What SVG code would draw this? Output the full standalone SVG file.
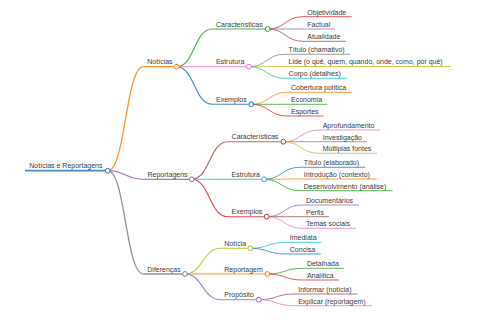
<svg xmlns="http://www.w3.org/2000/svg" width="480" height="320" viewBox="0 0 480 320">
<style>
text{font-family:"Liberation Sans",Arial,sans-serif;font-size:7px;fill:#3a3a3a}
path,line{fill:none;stroke-opacity:0.85}
circle{fill:#fff;stroke-width:1}
.c0{stroke:#1f77b4}.c1{stroke:#ff7f0e}.c2{stroke:#2ca02c}.c3{stroke:#d62728}.c4{stroke:#9467bd}
.c5{stroke:#8c564b}.c6{stroke:#e377c2}.c7{stroke:#7f7f7f}.c8{stroke:#bcbd22}.c9{stroke:#17becf}
.w0{stroke-width:1.8}.w1{stroke-width:1.3}.w2{stroke-width:1.1}.w3{stroke-width:0.9}
</style>
<rect width="480" height="320" fill="#fff"/>
<g id="connectors">
<path class="c1 w1" d="M107.7,170.7 C125.6,170.7 125.6,66.7 143.5,66.7"/>
<path class="c4 w1" d="M107.7,170.7 C125.6,170.7 125.6,179.3 143.5,179.3"/>
<path class="c7 w1" d="M107.7,170.7 C125.6,170.7 125.6,274 143.5,274"/>
<path class="c2 w2" d="M176.7,66.7 C194.4,66.7 194.4,29 212,29"/>
<path class="c6 w2" d="M176.7,66.7 C194.4,66.7 194.4,66.7 212,66.7"/>
<path class="c0 w2" d="M176.7,66.7 C194.4,66.7 194.4,104.3 212,104.3"/>
<path class="c5 w2" d="M191.7,179.3 C209.6,179.3 209.6,141.7 227.5,141.7"/>
<path class="c9 w2" d="M191.7,179.3 C209.6,179.3 209.6,179.3 227.5,179.3"/>
<path class="c3 w2" d="M191.7,179.3 C209.6,179.3 209.6,216.7 227.5,216.7"/>
<path class="c8 w2" d="M185,274 C202.7,274 202.7,248.3 220.5,248.3"/>
<path class="c1 w2" d="M185,274 C202.7,274 202.7,274 220.5,274"/>
<path class="c4 w2" d="M185,274 C202.7,274 202.7,299.7 220.5,299.7"/>
<path class="c3 w3" d="M267.7,29 C285.3,29 285.3,16.7 303,16.7"/>
<path class="c4 w3" d="M267.7,29 C285.3,29 285.3,29 303,29"/>
<path class="c5 w3" d="M267.7,29 C285.3,29 285.3,41.3 303,41.3"/>
<path class="c7 w3" d="M249,66.7 C266.7,66.7 266.7,54.3 284.5,54.3"/>
<path class="c8 w3" d="M249,66.7 C266.7,66.7 266.7,66.5 284.5,66.5"/>
<path class="c9 w3" d="M249,66.7 C266.7,66.7 266.7,78.3 284.5,78.3"/>
<path class="c1 w3" d="M251.3,104.3 C269.2,104.3 269.2,92.3 287,92.3"/>
<path class="c2 w3" d="M251.3,104.3 C269.2,104.3 269.2,104.3 287,104.3"/>
<path class="c3 w3" d="M251.3,104.3 C269.2,104.3 269.2,116 287,116"/>
<path class="c6 w3" d="M283.3,141.7 C301,141.7 301,130 318.7,130"/>
<path class="c7 w3" d="M283.3,141.7 C301,141.7 301,141.7 318.7,141.7"/>
<path class="c8 w3" d="M283.3,141.7 C301,141.7 301,153.3 318.7,153.3"/>
<path class="c0 w3" d="M264,179.3 C281.8,179.3 281.8,167.3 299.7,167.3"/>
<path class="c1 w3" d="M264,179.3 C281.8,179.3 281.8,179 299.7,179"/>
<path class="c2 w3" d="M264,179.3 C281.8,179.3 281.8,190.7 299.7,190.7"/>
<path class="c4 w3" d="M266.7,216.7 C284.3,216.7 284.3,205 302,205"/>
<path class="c5 w3" d="M266.7,216.7 C284.3,216.7 284.3,216.7 302,216.7"/>
<path class="c6 w3" d="M266.7,216.7 C284.3,216.7 284.3,228.3 302,228.3"/>
<path class="c9 w3" d="M250.3,248.3 C268,248.3 268,242.3 285.7,242.3"/>
<path class="c0 w3" d="M250.3,248.3 C268,248.3 268,254 285.7,254"/>
<path class="c2 w3" d="M267.3,274 C285,274 285,268.3 302.7,268.3"/>
<path class="c3 w3" d="M267.3,274 C285,274 285,280 302.7,280"/>
<path class="c5 w3" d="M258.7,299.7 C276.3,299.7 276.3,294 294,294"/>
<path class="c6 w3" d="M258.7,299.7 C276.3,299.7 276.3,305.7 294,305.7"/>
</g>
<g id="n-root"><line class="c0 w0" x1="25" y1="170.7" x2="107.7" y2="170.7"/><text x="29.3" y="168.3">Notícias e Reportagens</text><circle class="c0" cx="107.7" cy="170.7" r="2.4"/></g>
<g id="n-noticias"><line class="c1 w1" x1="143.5" y1="66.7" x2="176.7" y2="66.7"/><text x="147.3" y="64.3">Notícias</text><circle class="c1" cx="176.7" cy="66.7" r="2.4"/></g>
<g id="n-reportagens"><line class="c4 w1" x1="143.5" y1="179.3" x2="191.7" y2="179.3"/><text x="147.5" y="176.9">Reportagens</text><circle class="c4" cx="191.7" cy="179.3" r="2.4"/></g>
<g id="n-diferencas"><line class="c7 w1" x1="143.5" y1="274" x2="185" y2="274"/><text x="147.3" y="271.6">Diferenças</text><circle class="c7" cx="185" cy="274" r="2.4"/></g>
<g id="n-n-caracteristicas"><line class="c2 w2" x1="212" y1="29" x2="267.7" y2="29"/><text x="216" y="26.6">Características</text><circle class="c2" cx="267.7" cy="29" r="2.4"/></g>
<g id="n-n-estrutura"><line class="c6 w2" x1="212" y1="66.7" x2="249" y2="66.7"/><text x="216" y="64.3">Estrutura</text><circle class="c6" cx="249" cy="66.7" r="2.4"/></g>
<g id="n-n-exemplos"><line class="c0 w2" x1="212" y1="104.3" x2="251.3" y2="104.3"/><text x="216" y="101.9">Exemplos</text><circle class="c0" cx="251.3" cy="104.3" r="2.4"/></g>
<g id="n-r-caracteristicas"><line class="c5 w2" x1="227.5" y1="141.7" x2="283.3" y2="141.7"/><text x="231.6" y="139.3">Características</text><circle class="c5" cx="283.3" cy="141.7" r="2.4"/></g>
<g id="n-r-estrutura"><line class="c9 w2" x1="227.5" y1="179.3" x2="264" y2="179.3"/><text x="231.6" y="176.9">Estrutura</text><circle class="c9" cx="264" cy="179.3" r="2.4"/></g>
<g id="n-r-exemplos"><line class="c3 w2" x1="227.5" y1="216.7" x2="266.7" y2="216.7"/><text x="231.6" y="214.3">Exemplos</text><circle class="c3" cx="266.7" cy="216.7" r="2.4"/></g>
<g id="n-d-noticia"><line class="c8 w2" x1="220.5" y1="248.3" x2="250.3" y2="248.3"/><text x="224.3" y="245.9">Notícia</text><circle class="c8" cx="250.3" cy="248.3" r="2.4"/></g>
<g id="n-d-reportagem"><line class="c1 w2" x1="220.5" y1="274" x2="267.3" y2="274"/><text x="224.3" y="271.6">Reportagem</text><circle class="c1" cx="267.3" cy="274" r="2.4"/></g>
<g id="n-d-proposito"><line class="c4 w2" x1="220.5" y1="299.7" x2="258.7" y2="299.7"/><text x="224.3" y="297.3">Propósito</text><circle class="c4" cx="258.7" cy="299.7" r="2.4"/></g>
<g id="l-objetividade"><line class="c3 w3" x1="303" y1="16.7" x2="351.7" y2="16.7"/><text x="307.3" y="14.5">Objetividade</text></g>
<g id="l-factual"><line class="c4 w3" x1="303" y1="29" x2="335" y2="29"/><text x="307.3" y="26.8">Factual</text></g>
<g id="l-atualidade"><line class="c5 w3" x1="303" y1="41.3" x2="346" y2="41.3"/><text x="307.3" y="39.1">Atualidade</text></g>
<g id="l-titulo-chamativo"><line class="c7 w3" x1="284.5" y1="54.3" x2="350" y2="54.3"/><text x="288.6" y="52.1">Título (chamativo)</text></g>
<g id="l-lide"><line class="c8 w3" x1="284.5" y1="66.5" x2="451" y2="66.5"/><text x="288.6" y="64.3">Lide (o quê, quem, quando, onde, como, por quê)</text></g>
<g id="l-corpo"><line class="c9 w3" x1="284.5" y1="78.3" x2="346.7" y2="78.3"/><text x="288.6" y="76.1">Corpo (detalhes)</text></g>
<g id="l-cobertura"><line class="c1 w3" x1="287" y1="92.3" x2="351.7" y2="92.3"/><text x="291" y="90.1">Cobertura política</text></g>
<g id="l-economia"><line class="c2 w3" x1="287" y1="104.3" x2="327.3" y2="104.3"/><text x="291" y="102.1">Economia</text></g>
<g id="l-esportes"><line class="c3 w3" x1="287" y1="116" x2="323.3" y2="116"/><text x="291" y="113.8">Esportes</text></g>
<g id="l-aprofundamento"><line class="c6 w3" x1="318.7" y1="130" x2="380" y2="130"/><text x="322.7" y="127.8">Aprofundamento</text></g>
<g id="l-investigacao"><line class="c7 w3" x1="318.7" y1="141.7" x2="366.7" y2="141.7"/><text x="322.7" y="139.5">Investigação</text></g>
<g id="l-multiplas"><line class="c8 w3" x1="318.7" y1="153.3" x2="377.3" y2="153.3"/><text x="322.7" y="151.1">Múltiplas fontes</text></g>
<g id="l-titulo-elaborado"><line class="c0 w3" x1="299.7" y1="167.3" x2="365" y2="167.3"/><text x="303.8" y="165.1">Título (elaborado)</text></g>
<g id="l-introducao"><line class="c1 w3" x1="299.7" y1="179" x2="376.7" y2="179"/><text x="303.8" y="176.8">Introdução (contexto)</text></g>
<g id="l-desenvolvimento"><line class="c2 w3" x1="299.7" y1="190.7" x2="392.7" y2="190.7"/><text x="303.8" y="188.5">Desenvolvimento (análise)</text></g>
<g id="l-documentarios"><line class="c4 w3" x1="302" y1="205" x2="359" y2="205"/><text x="306" y="202.8">Documentários</text></g>
<g id="l-perfis"><line class="c5 w3" x1="302" y1="216.7" x2="329.3" y2="216.7"/><text x="306" y="214.5">Perfis</text></g>
<g id="l-temas"><line class="c6 w3" x1="302" y1="228.3" x2="356" y2="228.3"/><text x="306" y="226.1">Temas sociais</text></g>
<g id="l-imediata"><line class="c9 w3" x1="285.7" y1="242.3" x2="321.7" y2="242.3"/><text x="289.8" y="240.1">Imediata</text></g>
<g id="l-concisa"><line class="c0 w3" x1="285.7" y1="254" x2="320.7" y2="254"/><text x="289.8" y="251.8">Concisa</text></g>
<g id="l-detalhada"><line class="c2 w3" x1="302.7" y1="268.3" x2="344" y2="268.3"/><text x="306.9" y="266.1">Detalhada</text></g>
<g id="l-analitica"><line class="c3 w3" x1="302.7" y1="280" x2="339" y2="280"/><text x="306.9" y="277.8">Analítica</text></g>
<g id="l-informar"><line class="c5 w3" x1="294" y1="294" x2="357.3" y2="294"/><text x="298.2" y="291.8">Informar (notícia)</text></g>
<g id="l-explicar"><line class="c6 w3" x1="294" y1="305.7" x2="371.7" y2="305.7"/><text x="298.2" y="303.5">Explicar (reportagem)</text></g>
</svg>
